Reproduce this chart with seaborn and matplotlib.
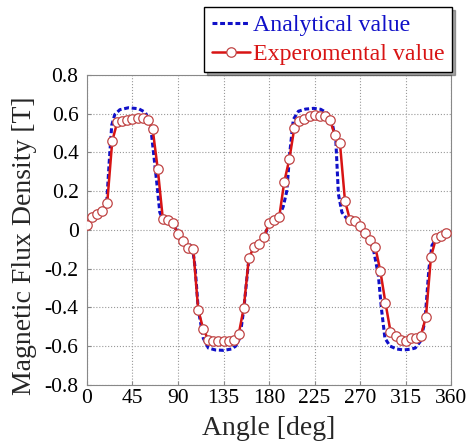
import numpy as np
import pandas as pd
import matplotlib
matplotlib.use("Agg")
import matplotlib.pyplot as plt
import seaborn as sns

# measured flux density, one sample every 5 degrees
exp_angle = list(range(0, 360, 5))
exp_value = [
    0.026, 0.068, 0.082, 0.099, 0.137, 0.458, 0.557, 0.564, 0.568, 0.570,
    0.575, 0.577, 0.565, 0.518, 0.313, 0.056, 0.050, 0.034, -0.023, -0.058,
    -0.094, -0.097, -0.414, -0.513, -0.568, -0.573, -0.573, -0.573, -0.573, -0.568,
    -0.538, -0.402, -0.145, -0.089, -0.075, -0.037, 0.035, 0.050, 0.065, 0.248,
    0.364, 0.527, 0.560, 0.573, 0.586, 0.595, 0.590, 0.586, 0.569, 0.490,
    0.450, 0.150, 0.050, 0.045, 0.022, -0.017, -0.051, -0.089, -0.214, -0.376,
    -0.525, -0.550, -0.568, -0.576, -0.559, -0.559, -0.547, -0.451, -0.140, -0.043,
    -0.032, -0.015,
]

ana_angle = [0, 5, 10, 15, 19.5, 22, 24.5, 27.5, 32.5, 41, 51, 57.5, 60.5, 64, 69,
             72, 75, 80, 85, 90, 95, 100, 104, 107, 110, 115, 120, 127, 135, 143,
             147, 151, 155, 160, 165, 170, 175, 180, 185, 190, 194, 197.5, 200.5,
             204, 209, 216, 224, 231, 237, 242, 246, 248.5, 252, 257, 262, 266, 270,
             275, 280, 283, 288, 291, 294.5, 299.5, 306, 313, 320, 324.5, 329.5, 334,
             338, 341, 345, 349, 352.5]
ana_value = [0.03, 0.065, 0.08, 0.10, 0.14, 0.35, 0.54, 0.595, 0.62, 0.63, 0.625, 0.607,
             0.578, 0.484, 0.244, 0.09, 0.055, 0.045, 0.03, -0.015, -0.05, -0.085,
             -0.075, -0.20, -0.41, -0.56, -0.61, -0.62, -0.622, -0.615, -0.60, -0.56,
             -0.41, -0.15, -0.09, -0.075, -0.04, 0.03, 0.045, 0.07, 0.12, 0.20, 0.40,
             0.57, 0.612, 0.623, 0.627, 0.622, 0.604, 0.56, 0.458, 0.185, 0.09, 0.056,
             0.048, 0.04, 0.0, -0.03, -0.065, -0.097, -0.234, -0.405, -0.559, -0.60,
             -0.615, -0.62, -0.616, -0.61, -0.576, -0.473, -0.20, -0.08, -0.05, -0.05,
             -0.04]

xticks = [0, 45, 90, 135, 180, 225, 270, 315, 360]
yticks = [-0.8, -0.6, -0.4, -0.2, 0, 0.2, 0.4, 0.6, 0.8]
ytick_labels = ['-0.8', '-0.6', '-0.4', '-0.2', '0', '0.2', '0.4', '0.6', '0.8']

sns.set_style("ticks")
plt.rcParams['font.family'] = ['Liberation Serif', 'DejaVu Serif']
plt.rcParams['axes.unicode_minus'] = False

exp_df = pd.DataFrame({'angle': exp_angle, 'value': exp_value})
ana_df = pd.DataFrame({'angle': ana_angle, 'value': ana_value})

fig = plt.figure(figsize=(4.7, 4.48), dpi=100)
ax = fig.add_axes([0.185, 0.141, 0.775, 0.692])

blue = '#1010c8'
red = '#d81414'

sns.lineplot(data=ana_df, x='angle', y='value', ax=ax, color=blue,
             dashes=False, linewidth=2.2, label='Analytical value', zorder=2)
ax.lines[-1].set_dashes((1.6, 0.9))
sns.lineplot(data=exp_df, x='angle', y='value', ax=ax, color=red,
             linewidth=1.8, marker='o', markersize=6.8, markerfacecolor='white',
             markeredgecolor='#c04545', markeredgewidth=0.9,
             label='Experomental value', zorder=3)

ax.set_xlim(0, 360)
ax.set_ylim(-0.8, 0.8)
ax.set_xticks(xticks)
ax.set_yticks(yticks)
ax.set_yticklabels(ytick_labels)
ax.grid(True, linestyle=':', color='#999999', linewidth=0.8)
for s in ax.spines.values():
    s.set_color('#888888')
    s.set_linewidth(0.8)
ax.tick_params(axis='both', direction='in', length=3, color='#888888',
               labelsize=15.5, labelcolor='black')
ax.tick_params(axis='x', pad=3)
ax.tick_params(axis='y', pad=6)

ax.set_xlabel('Angle [deg]', fontsize=20, labelpad=6)
ax.set_ylabel('Magnetic Flux Density [T]', fontsize=20)
ax.yaxis.set_label_coords(-0.137, 0.45)

leg = ax.legend(loc='upper right', bbox_to_anchor=(0.962, 0.984),
                bbox_transform=fig.transFigure, fontsize=17.2, frameon=True,
                fancybox=False, shadow=True, edgecolor='black', framealpha=1,
                handlelength=1.6, handletextpad=0.15, borderpad=0.3,
                labelspacing=0.3, borderaxespad=0, labelcolor='linecolor')
leg.get_frame().set_linewidth(1.0)
leg.get_lines()[0].set_dashes((1.6, 0.9))

fig.savefig('out.png', dpi=100)
